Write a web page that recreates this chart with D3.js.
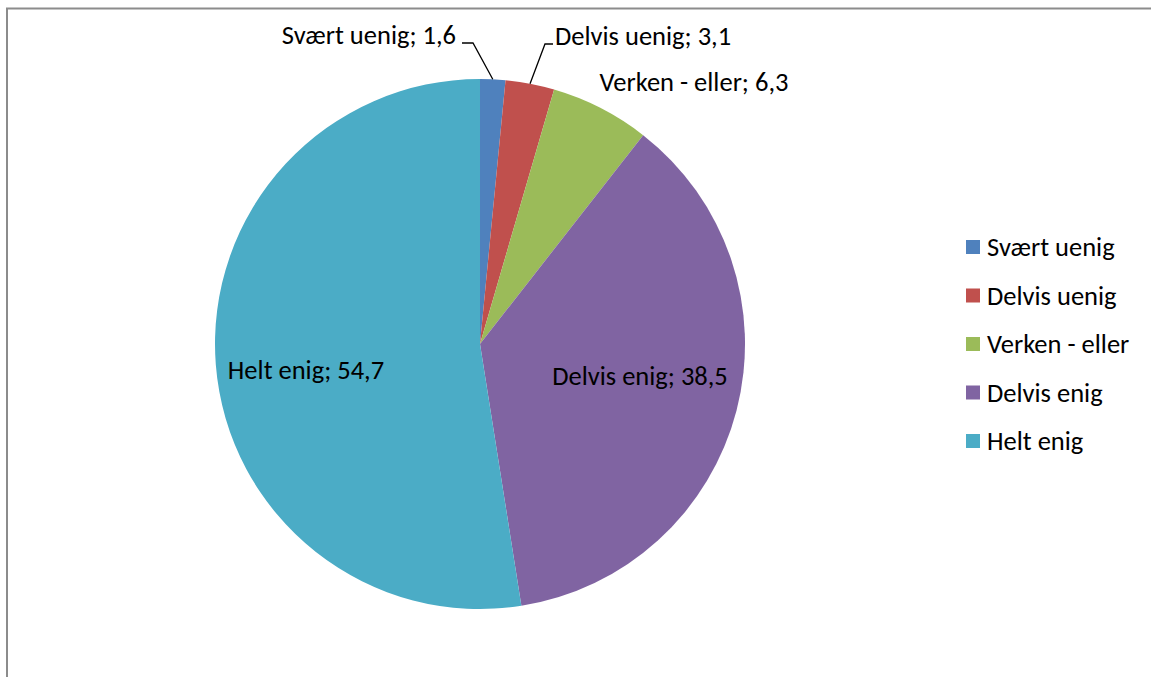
<!DOCTYPE html>
<html><head><meta charset="utf-8">
<script src="https://cdn.jsdelivr.net/npm/d3@7"></script>
<style>html,body{margin:0;padding:0;background:#fff;overflow:hidden}text{font-family:Carlito,Calibri,Lato,"Open Sans",sans-serif;fill:#000}</style>
</head><body><svg id="c" width="1151" height="677"></svg>
<script>
const categories = ["Svært uenig", "Delvis uenig", "Verken - eller", "Delvis enig", "Helt enig"];
const values = [1.6, 3.1, 6.3, 38.5, 54.7];
const valueLabels = ["1,6", "3,1", "6,3", "38,5", "54,7"];
const colors = ["#4F81BD", "#C0504D", "#9BBB59", "#8064A2", "#4BACC6"];

const svg = d3.select("#c");
svg.append("rect").attr("width",1151).attr("height",677).attr("fill","#fff");
svg.append("path").attr("d","M7,677V8.5H1151").attr("fill","none").attr("stroke","#8c8c8c").attr("stroke-width",2);

const cx = 480, cy = 344, R = 265;
const g = svg.append("g").attr("transform",`translate(${cx},${cy})`);
const pie = d3.pie().sort(null).value(d=>d.v);
const data = pie(categories.map((c,i)=>({c, v:values[i], lab:valueLabels[i], col:colors[i]})));
const arc = d3.arc().innerRadius(0).outerRadius(R);
g.selectAll("path.s").data(data).join("path").attr("class","s")
  .attr("d",arc).attr("fill",d=>d.data.col);

const FS = 26.5;
function polar(a, r){ return [r*Math.sin(a), -r*Math.cos(a)]; }
const labelLayout = [
  {mode:"out", anchor:"end", kneeX:-7, kneeY:-301, lineEnd:-18, textX:-24},
  {mode:"out", anchor:"start", kneeX:65, kneeY:-300, lineEnd:73, textX:75},
  {mode:"free", tx:214, ty:-262, anchor:"middle"},
  {mode:"in", tx:160, ty:32, anchor:"middle"},
  {mode:"in", tx:-174, ty:26, anchor:"middle"}
];
data.forEach((d,i)=>{
  const L = labelLayout[i];
  const mid = (d.startAngle+d.endAngle)/2;
  const txt = d.data.c + "; " + d.data.lab;
  if (L.mode === "out") {
    const p = polar(mid, R);
    g.append("path").attr("d",`M${p[0]},${p[1]}L${L.kneeX},${L.kneeY}L${L.lineEnd},${L.kneeY}`)
      .attr("fill","none").attr("stroke","#000").attr("stroke-width",1.3);
    g.append("text").attr("x", L.textX).attr("y", L.kneeY+0.5)
      .attr("text-anchor",L.anchor).attr("font-size",FS).text(txt);
  } else {
    g.append("text").attr("x",L.tx).attr("y",L.ty).attr("dy","0.35em")
      .attr("text-anchor",L.anchor).attr("font-size",FS).text(txt);
  }
});

const leg = svg.append("g").attr("transform","translate(966,247)");
const ly = d3.scalePoint().domain(categories).range([0, 194]);
categories.forEach((c,i)=>{
  leg.append("rect").attr("x",0).attr("y",ly(c)-7).attr("width",14).attr("height",14).attr("fill",colors[i]);
  leg.append("text").attr("x",21).attr("y",ly(c)).attr("dy","0.35em").attr("font-size",FS).text(c);
});
</script></body></html>
